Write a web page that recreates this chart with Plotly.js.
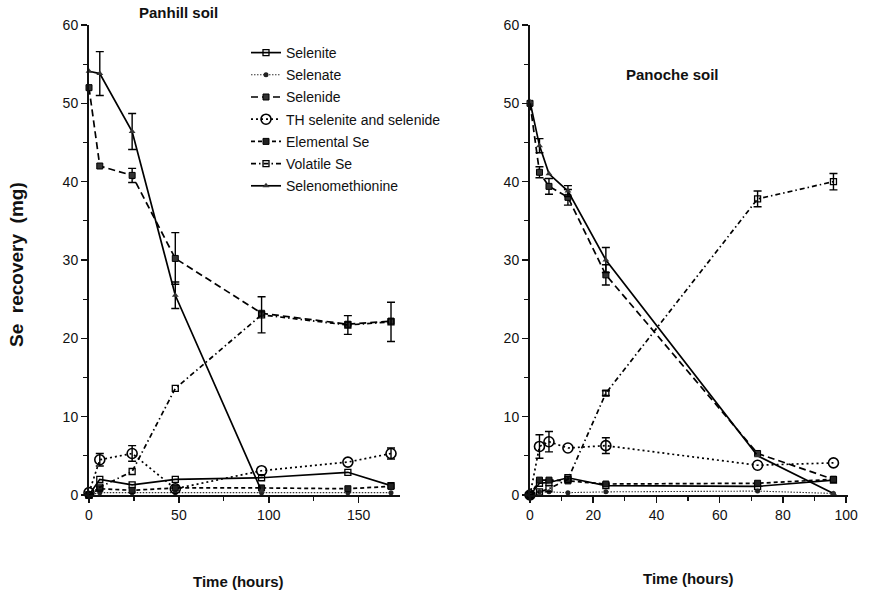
<!DOCTYPE html>
<html>
<head>
<meta charset="utf-8">
<script src="https://cdn.plot.ly/plotly-3.0.1.min.js"></script>
<style>html,body{margin:0;padding:0;background:#fff;}#chart{width:870px;height:592px;}</style>
</head>
<body>
<div id="chart"></div>
<script>
// ---- Data ----
var seriesNames = ["Selenite", "Selenate", "Selenide", "TH selenite and selenide", "Elemental Se", "Volatile Se", "Selenomethionine"];

// Panhill soil
var panhillTime = [0, 6, 24, 48, 96, 144, 168];
var panhillSelenite = [0, 2.0, 1.3, 2.0, 2.2, 2.9, 1.2];
var panhillSelenate = [0, 0.3, 0.3, 0.3, 0.3, 0.3, 0.3];
var panhillSelenide = [52, 42, 40.8, 30.2, 23.2, 21.8, 22.2];
var panhillSelenideErr = [NaN, NaN, 0.9, 3.3, NaN, NaN, NaN];
var panhillTH = [0.3, 4.5, 5.3, 0.8, 3.1, 4.2, 5.3];
var panhillTHErr = [NaN, 0.8, 1.0, NaN, NaN, NaN, 0.7];
var panhillElemental = [0, 0.8, 0.6, 0.9, 0.9, 0.8, 1.1];
var panhillVolatile = [0, 1.0, 3.0, 13.6, 23.0, 21.7, 22.1];
var panhillVolatileErr = [NaN, NaN, NaN, NaN, 2.3, 1.2, 2.5];
var panhillSeMet = [54.1, 53.8, 46.4, 25.5, 0.5, null, null];
var panhillSeMetErr = [NaN, 2.8, 2.3, 1.7, NaN, NaN, NaN];

// Panoche soil
var panocheTime = [0, 3, 6, 12, 24, 72, 96];
var panocheSelenite = [0, 1.5, 1.6, 2.2, 1.2, 1.1, 1.9];
var panocheSelenate = [0, 0.4, 0.4, 0.3, 0.4, 0.5, 0.2];
var panocheSelenide = [50, 41.2, 39.4, 38.0, 28.1, 5.3, 2.0];
var panocheSelenideErr = [NaN, 0.7, 1.0, 1.0, 1.3, NaN, NaN];
var panocheTH = [0, 6.2, 6.8, 6.0, 6.3, 3.8, 4.1];
var panocheTHErr = [NaN, 1.5, 1.3, NaN, 1.0, NaN, NaN];
var panocheElemental = [0, 1.9, 1.9, 1.8, 1.4, 1.5, 2.0];
var panocheVolatile = [0, 0.4, 0.8, 2.0, 13.0, 37.8, 40.0];
var panocheVolatileErr = [NaN, NaN, NaN, NaN, 0.3, 1.0, 1.05];
var panocheSeMet = [50.2, 44.6, 41.0, 38.8, 30.0, 5.0, 0.2];
var panocheSeMetErr = [NaN, 0.9, NaN, 0.7, 1.6, NaN, NaN];

// ---- Styles ----
var styles = [
  {line: {color: '#000', width: 1.7, dash: 'solid'}, marker: {symbol: 'square-open', size: 6, color: '#000', line: {width: 1.3}}},
  {line: {color: '#333', width: 1.1, dash: '1.5px,1.5px'}, marker: {symbol: 'circle', size: 5, color: '#222'}},
  {line: {color: '#000', width: 1.7, dash: '7px,4px'}, marker: {symbol: 'square', size: 6, color: '#333', line: {width: 1, color: '#000'}}},
  {line: {color: '#000', width: 1.7, dash: '2px,3px'}, marker: {symbol: 'circle-open', size: 10, color: '#000', line: {width: 1.6}}},
  {line: {color: '#000', width: 1.7, dash: '4px,3px'}, marker: {symbol: 'square', size: 6, color: '#222', line: {width: 1, color: '#000'}}},
  {line: {color: '#000', width: 1.7, dash: '5px,3px,1.5px,3px'}, marker: {symbol: 'square-open', size: 6, color: '#000', line: {width: 1.3}}},
  {line: {color: '#000', width: 1.7, dash: 'solid'}, marker: {symbol: 'triangle-up', size: 6, color: '#333'}}
];

function mk(x, y, err, idx, xa, ya, show) {
  var t = {
    type: 'scatter', mode: 'lines+markers', x: x, y: y,
    xaxis: xa, yaxis: ya, name: seriesNames[idx],
    legendgroup: 'g' + idx, showlegend: show,
    line: styles[idx].line, marker: styles[idx].marker,
    cliponaxis: false, connectgaps: false
  };
  if (err) {
    t.error_y = {type: 'data', array: err, visible: true, color: '#000', thickness: 1.4, width: 4};
  }
  return t;
}

var traces = [
  mk(panhillTime, panhillSelenite, null, 0, 'x', 'y', true),
  mk(panhillTime, panhillSelenate, null, 1, 'x', 'y', true),
  mk(panhillTime, panhillSelenide, panhillSelenideErr, 2, 'x', 'y', true),
  mk(panhillTime, panhillTH, panhillTHErr, 3, 'x', 'y', true),
  mk(panhillTime, panhillElemental, null, 4, 'x', 'y', true),
  mk(panhillTime, panhillVolatile, panhillVolatileErr, 5, 'x', 'y', true),
  mk(panhillTime, panhillSeMet, panhillSeMetErr, 6, 'x', 'y', true),
  mk(panocheTime, panocheSelenite, null, 0, 'x2', 'y2', false),
  mk(panocheTime, panocheSelenate, null, 1, 'x2', 'y2', false),
  mk(panocheTime, panocheSelenide, panocheSelenideErr, 2, 'x2', 'y2', false),
  mk(panocheTime, panocheTH, panocheTHErr, 3, 'x2', 'y2', false),
  mk(panocheTime, panocheElemental, null, 4, 'x2', 'y2', false),
  mk(panocheTime, panocheVolatile, panocheVolatileErr, 5, 'x2', 'y2', false),
  mk(panocheTime, panocheSeMet, panocheSeMetErr, 6, 'x2', 'y2', false)
];

var tickFont = {family: 'Liberation Sans, Arial, sans-serif', size: 14, color: '#111'};
function axisBase() {
  return {
    showgrid: false, zeroline: false, showline: true, linecolor: '#111', linewidth: 2,
    ticks: 'outside', ticklen: 6, tickwidth: 1.5, tickcolor: '#111', tickfont: tickFont,
    fixedrange: true
  };
}
var xa1 = Object.assign(axisBase(), {domain: [89/870, 400/870], range: [0, 173], tickvals: [0, 50, 100, 150],
  minor: {tickvals: [25, 75, 125], ticks: 'outside', ticklen: 4, tickwidth: 1.3, tickcolor: '#111'}, anchor: 'y'});
var xa2 = Object.assign(axisBase(), {domain: [530/870, 848/870], range: [0, 100.6], tickvals: [0, 20, 40, 60, 80, 100],
  minor: {tickvals: [10, 30, 50, 70, 90], ticks: 'outside', ticklen: 4, tickwidth: 1.3, tickcolor: '#111'}, anchor: 'y2'});
var ya1 = Object.assign(axisBase(), {domain: [0, 1], range: [0, 60], tickvals: [0, 10, 20, 30, 40, 50, 60],
  minor: {tickvals: [5, 15, 25, 35, 45, 55], ticks: 'outside', ticklen: 4, tickwidth: 1.3, tickcolor: '#111'}, anchor: 'x'});
var ya2 = Object.assign(axisBase(), {domain: [0, 1], range: [0, 60], tickvals: [0, 10, 20, 30, 40, 50, 60],
  minor: {tickvals: [5, 15, 25, 35, 45, 55], ticks: 'outside', ticklen: 4, tickwidth: 1.3, tickcolor: '#111'}, anchor: 'x2'});

var boldFont = {family: 'Liberation Sans, Arial, sans-serif', size: 15, color: '#111', weight: 'bold'};

var layout = {
  width: 870, height: 592,
  margin: {l: 0, r: 0, t: 25, b: 97},
  paper_bgcolor: '#fff', plot_bgcolor: '#fff',
  showlegend: true,
  legend: {x: 246/870, y: (495-37)/470, xanchor: 'left', yanchor: 'top', bgcolor: 'rgba(0,0,0,0)',
    font: {family: 'Liberation Sans, Arial, sans-serif', size: 14, color: '#111'}, tracegroupgap: 1},
  xaxis: xa1, yaxis: ya1, xaxis2: xa2, yaxis2: ya2,
  annotations: [
    {text: '<b>Panhill soil</b>', xref: 'paper', yref: 'paper', x: 178/870, y: (495-13)/470, showarrow: false,
     xanchor: 'center', yanchor: 'middle', font: boldFont},
    {text: '<b>Panoche soil</b>', xref: 'paper', yref: 'paper', x: 672/870, y: (495-74)/470, showarrow: false,
     xanchor: 'center', yanchor: 'middle', font: boldFont},
    {text: '<b>Time (hours)</b>', xref: 'paper', yref: 'paper', x: 238/870, y: (495-581)/470, showarrow: false,
     xanchor: 'center', yanchor: 'middle', font: boldFont},
    {text: '<b>Time (hours)</b>', xref: 'paper', yref: 'paper', x: 688/870, y: (495-578)/470, showarrow: false,
     xanchor: 'center', yanchor: 'middle', font: boldFont},
    {text: '<b>Se\u00a0 recovery\u00a0 (mg)</b>', xref: 'paper', yref: 'paper', x: 16/870, y: (495-265)/470, showarrow: false,
     xanchor: 'center', yanchor: 'middle', textangle: -90, font: {family: 'Liberation Sans, Arial, sans-serif', size: 19, color: '#111', weight: 'bold'}}
  ]
};

Plotly.newPlot('chart', traces, layout, {staticPlot: true, displayModeBar: false});
</script>
</body>
</html>
